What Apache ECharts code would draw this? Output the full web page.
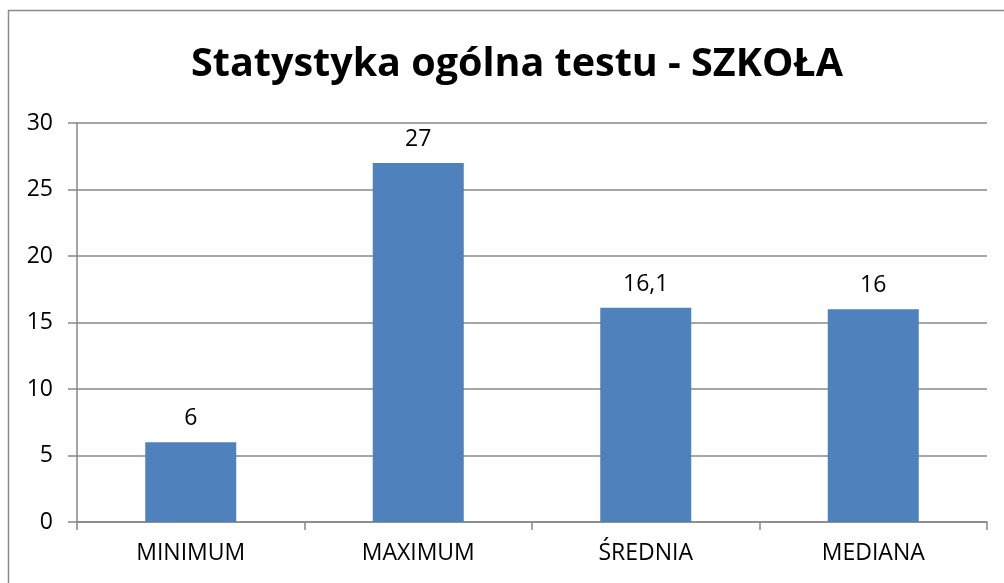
<!DOCTYPE html>
<html>
<head>
<meta charset="utf-8">
<script src="https://cdn.jsdelivr.net/npm/echarts@6/dist/echarts.min.js"></script>
<style>
	html, body { margin: 0; padding: 0; background: #fff; }
	#chart { width: 1004px; height: 583px; }
</style>
</head>
<body>
<div id="chart"></div>
<script>
	// dane wykresu
	var categories = ['MINIMUM', 'MAXIMUM', 'ŚREDNIA', 'MEDIANA'];
	var values = [6, 27, 16.1, 16];
	var yTicks = [0, 5, 10, 15, 20, 25, 30];

	var font = '"Open Sans", "Liberation Sans", sans-serif';
	var chart = echarts.init(document.getElementById('chart'), null, { renderer: 'canvas' });

	var option = {
		animation: false,
		backgroundColor: '#fff',
		title: {
			text: 'Statystyka ogólna testu - SZKOŁA',
			left: 186,
			top: 40,
			textStyle: {
				fontFamily: font,
				fontWeight: 'bold',
				fontSize: 39.5,
				color: '#000'
			}
		},
		graphic: [{
			type: 'rect',
			shape: { x: 8.5, y: 10.5, width: 1100, height: 700 },
			style: { fill: 'none', stroke: '#8a8a8a', lineWidth: 1.5 },
			silent: true
		}],
		grid: {
			left: 77,
			right: 17,
			top: 123,
			bottom: 61,
			containLabel: false
		},
		xAxis: {
			type: 'category',
			data: categories,
			axisLine: { lineStyle: { color: '#888', width: 1.5 } },
			axisTick: { show: true, length: 8, alignWithLabel: false, lineStyle: { color: '#888', width: 1.5 } },
			axisLabel: {
				fontFamily: font,
				fontSize: 23,
				color: '#000',
				margin: 20
			},
			splitLine: { show: false }
		},
		yAxis: {
			type: 'value',
			min: yTicks[0],
			max: yTicks[yTicks.length - 1],
			interval: 5,
			axisLine: { show: true, lineStyle: { color: '#888', width: 1.5 } },
			axisTick: { show: true, length: 9, lineStyle: { color: '#888', width: 1.5 } },
			axisLabel: {
				fontFamily: font,
				fontSize: 23,
				color: '#000',
				margin: 24
			},
			splitLine: { lineStyle: { color: '#888', width: 1.5 } }
		},
		series: [{
			type: 'bar',
			data: values,
			barWidth: '40%',
			itemStyle: { color: '#4F81BD' },
			label: {
				show: true,
				position: 'top',
				distance: 12,
				fontFamily: font,
				fontSize: 23,
				color: '#000',
				formatter: function (p) {
					return String(p.value).replace('.', ',');
				}
			}
		}]
	};

	chart.setOption(option);
</script>
</body>
</html>
